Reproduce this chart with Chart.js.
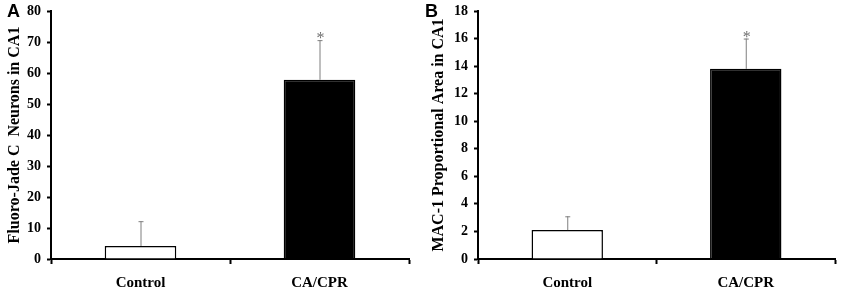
<!DOCTYPE html>
<html>
<head>
<meta charset="utf-8">
<script src="https://cdn.jsdelivr.net/npm/chart.js@4/dist/chart.umd.min.js"></script>
<style>
  body { margin: 0; background: #fff; }
  #wrap { position: relative; width: 852px; height: 295px; }
  .panel { position: absolute; top: 0; height: 295px; }
  .letter { position: absolute; top: 1px; font: bold 18px "Liberation Sans", Arial, sans-serif; color: #000; }
</style>
</head>
<body>
<div id="wrap">
  <div class="panel" style="left:0;width:420px"><canvas id="chartA" width="420" height="295"></canvas></div>
  <div class="panel" style="left:420px;width:432px"><canvas id="chartB" width="432" height="295"></canvas></div>
  <div class="letter" style="left:7px">A</div>
  <div class="letter" style="left:425px">B</div>
</div>
<script>
// data
const groups = ['Control', 'CA/CPR'];
const fjcMeans = [4.2, 57.8];
const fjcErr = [8.0, 12.8];
const mac1Means = [2.1, 13.8];
const mac1Err = [1.0, 2.2];
const signif = ['', '*'];
const barFill = ['#ffffff', '#000000'];

const serif = '"Liberation Serif", "Times New Roman", serif';

// upper error bars + asterisks, placed with the chart's own scales
const errorBars = {
  id: 'errorBars',
  afterDatasetsDraw(chart, args, opts) {
    const ctx = chart.ctx;
    const meta = chart.getDatasetMeta(0);
    const y = chart.scales.y;
    ctx.save();
    meta.data.forEach((bar, i) => {
      const m = opts.means[i];
      const top = y.getPixelForValue(m + opts.errs[i]);
      const base = y.getPixelForValue(m);
      ctx.strokeStyle = '#7f7f7f';
      ctx.lineWidth = 1;
      ctx.beginPath();
      ctx.moveTo(bar.x + 0.5, base);
      ctx.lineTo(bar.x + 0.5, top);
      ctx.moveTo(bar.x - 2, top + 0.5);
      ctx.lineTo(bar.x + 3, top + 0.5);
      ctx.stroke();
      if (signif[i]) {
        ctx.fillStyle = '#6f6f6f';
        ctx.font = '16px ' + serif;
        ctx.textAlign = 'center';
        ctx.textBaseline = 'bottom';
        ctx.fillText(signif[i], bar.x + 1, top + 7);
      }
    });
    ctx.restore();
  }
};

function makeChart(id, means, errs, maxV, step, title, yWidth, pad) {
  return new Chart(document.getElementById(id), {
    type: 'bar',
    data: {
      labels: groups,
      datasets: [{
        data: means,
        backgroundColor: barFill,
        borderColor: '#000',
        borderWidth: 1.5,
        categoryPercentage: 1,
        barPercentage: 0.4
      }]
    },
    options: {
      responsive: false,
      animation: false,
      layout: { padding: pad },
      plugins: {
        legend: { display: false },
        tooltip: { enabled: false },
        errorBars: { means: means, errs: errs }
      },
      scales: {
        x: {
          grid: { drawOnChartArea: false, drawTicks: true, tickLength: 5, tickColor: '#000', tickWidth: 2 },
          border: { color: '#000', width: 2 },
          ticks: { color: '#000', padding: 10, font: { family: serif, size: 15, weight: 'bold' } },
          afterFit(s) { s.height = 36; }
        },
        y: {
          min: 0,
          max: maxV,
          grid: { drawOnChartArea: false, drawTicks: true, tickLength: 4, tickColor: '#000', tickWidth: 2 },
          border: { color: '#000', width: 2 },
          ticks: { stepSize: step, color: '#000', padding: 6, font: { family: serif, size: 14, weight: 'bold' } },
          title: { display: true, text: title, color: '#000', padding: 0, font: { family: serif, size: 16, weight: 'bold' } },
          afterFit(s) {
            s.width = yWidth;
            // keep the plot top where the figure has it
            s.paddingTop = 0;
            s.paddingBottom = 0;
          }
        }
      }
    },
    plugins: [errorBars]
  });
}

makeChart('chartA', fjcMeans, fjcErr, 80, 10, 'Fluoro-Jade C  Neurons in CA1', 46, { left: 5, right: 11, top: 11, bottom: 0 });
makeChart('chartB', mac1Means, mac1Err, 18, 2, 'MAC-1 Proportional Area in CA1', 49, { left: 9, right: 17, top: 11, bottom: 0 });
</script>
</body>
</html>
